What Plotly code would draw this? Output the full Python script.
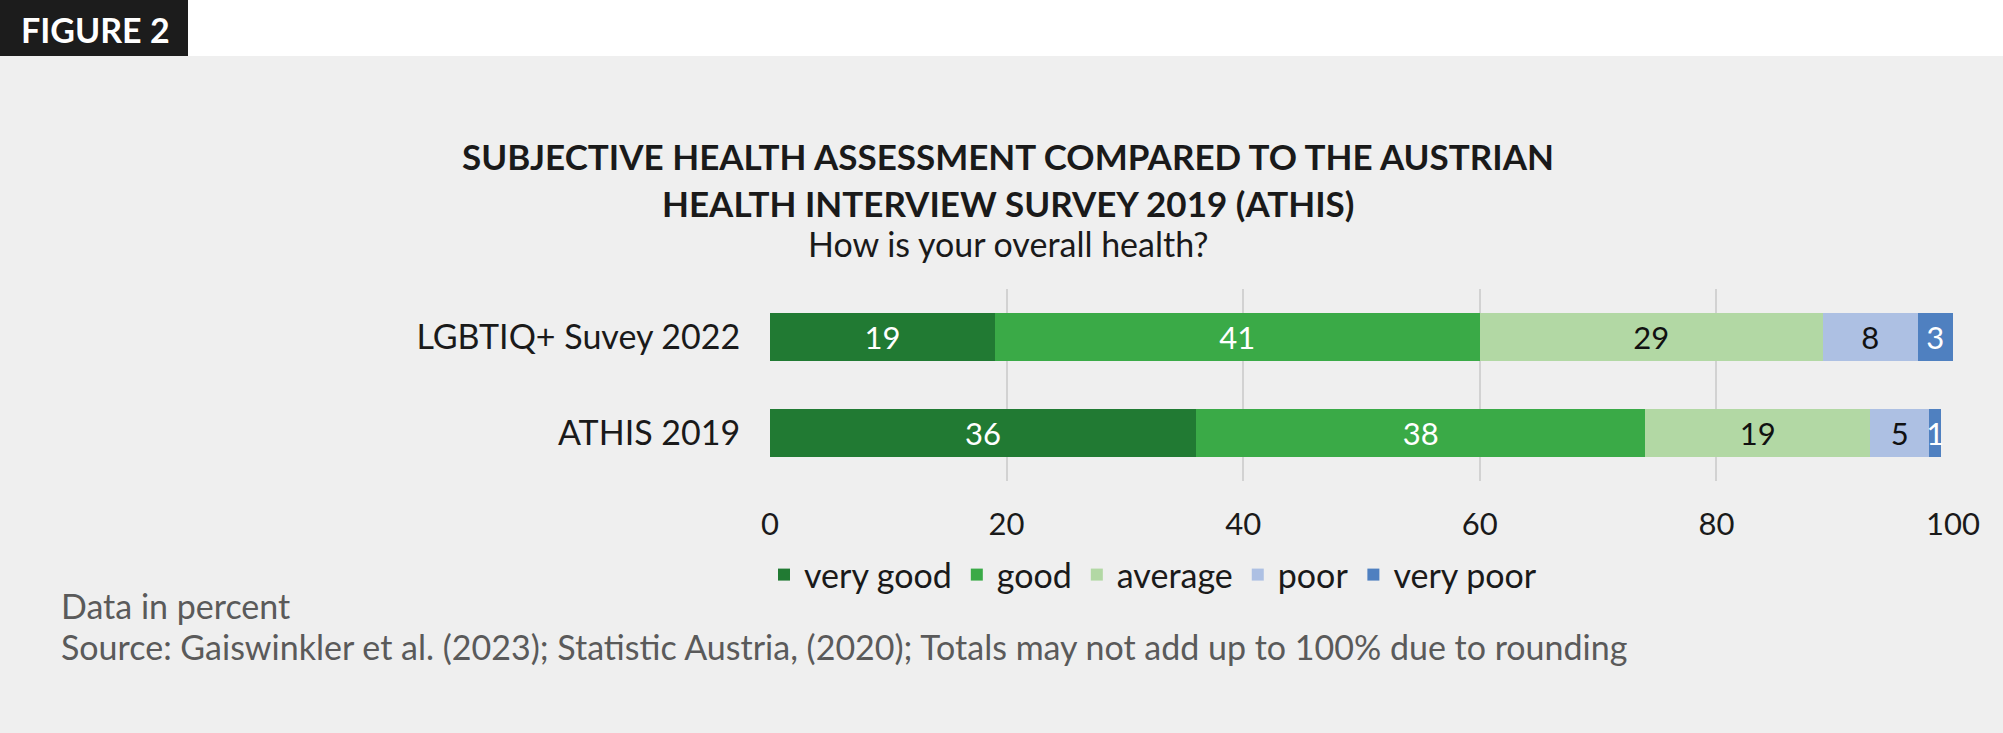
import plotly.graph_objs as go

# data
groups = ["LGBTIQ+ Suvey 2022", "ATHIS 2019"]
answers = ["very good", "good", "average", "poor", "very poor"]
lgbtiq_2022 = [19, 41, 29, 8, 3]
athis_2019 = [36, 38, 19, 5, 1]
colors = ["#217a33", "#3aaa47", "#b2d8a4", "#adc0e3", "#4f80c0"]
text_colors = ["white", "white", "#111111", "#111111", "white"]
x_ticks = [0, 20, 40, 60, 80, 100]

W, H = 2003, 733
L, R, T, B = 770, 50, 289, 252
plot_w = W - L - R
plot_h = H - T - B


def px_x(x):
    return (x - L) / plot_w


def px_y(y):
    return (H - B - y) / plot_h


FONT = "Lato"

fig = go.Figure()
for i, ans in enumerate(answers):
    vals = [lgbtiq_2022[i], athis_2019[i]]
    fig.add_trace(go.Bar(
        y=groups, x=vals, name=ans, orientation="h",
        marker=dict(color=colors[i], line=dict(width=0)),
        text=[str(v) for v in vals],
        textposition="inside", insidetextanchor="middle",
        textfont=dict(color=text_colors[i], size=31, family=FONT),
        cliponaxis=False, width=0.5,
    ))

fig.update_layout(
    barmode="stack",
    width=W, height=H,
    margin=dict(l=L, r=R, t=T, b=B),
    paper_bgcolor="#efefef", plot_bgcolor="#efefef",
    font=dict(family=FONT, size=30, color="#1a1a1a"),
    uniformtext=dict(minsize=31, mode="show"),
    showlegend=True,
    legend=dict(orientation="h", x=px_x(764), xanchor="left",
                y=px_y(575), yanchor="middle",
                font=dict(size=34, family=FONT, color="#1a1a1a"),
                bgcolor="rgba(0,0,0,0)", traceorder="normal",
                itemwidth=30),
)
fig.update_xaxes(
    range=[0, 100], tickvals=x_ticks, showgrid=True, gridcolor="#d2d2d2",
    gridwidth=1.5, zeroline=False, ticks="outside", ticklen=16,
    tickcolor="rgba(0,0,0,0)", tickfont=dict(size=31, color="#1a1a1a"),
    showline=False, fixedrange=True,
)
fig.update_yaxes(
    categoryorder="array", categoryarray=groups[::-1],
    ticks="outside", ticklen=22, tickcolor="rgba(0,0,0,0)",
    tickfont=dict(size=34, color="#1a1a1a"), showgrid=False, showline=False,
)

# white band and "FIGURE 2" tag at the top
fig.add_shape(type="rect", xref="paper", yref="paper",
              x0=px_x(0), x1=px_x(W), y0=px_y(0), y1=px_y(56),
              fillcolor="white", line=dict(width=0), layer="below")
fig.add_shape(type="rect", xref="paper", yref="paper",
              x0=px_x(0), x1=px_x(188), y0=px_y(0), y1=px_y(56),
              fillcolor="#1c1c1c", line=dict(width=0), layer="below")
fig.add_annotation(text="FIGURE 2", xref="paper", yref="paper",
                   x=px_x(95), y=px_y(29), xanchor="center", yanchor="middle",
                   showarrow=False,
                   font=dict(family=FONT, size=34, color="white", weight="bold"))

# titles
title_lines = [
    ("SUBJECTIVE HEALTH ASSESSMENT COMPARED TO THE AUSTRIAN", 156, True),
    ("HEALTH INTERVIEW SURVEY 2019 (ATHIS)", 203, True),
    ("How is your overall health?", 243, False),
]
for txt, y, bold in title_lines:
    fig.add_annotation(text=txt, xref="paper", yref="paper",
                       x=px_x(1008), y=px_y(y), xanchor="center",
                       yanchor="middle", showarrow=False,
                       font=dict(family=FONT, size=35 if bold else 34,
                                 color="#1a1a1a",
                                 weight="bold" if bold else "normal"))

# footnotes
notes = [
    ("Data in percent", 605),
    ("Source: Gaiswinkler et al. (2023); Statistic Austria, (2020); "
     "Totals may not add up to 100% due to rounding", 646),
]
for txt, y in notes:
    fig.add_annotation(text=txt, xref="paper", yref="paper",
                       x=px_x(59), y=px_y(y), xanchor="left",
                       yanchor="middle", showarrow=False,
                       font=dict(family=FONT, size=34, color="#5a5a5a"))

fig.write_html("out.html", config={"displayModeBar": False},
               post_script="document.body.style.margin='0px';")
